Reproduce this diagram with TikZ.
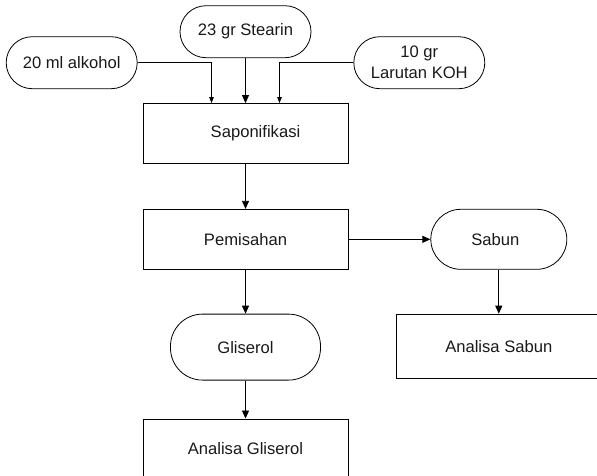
\documentclass[tikz,border=0pt]{standalone}
\usepackage{fontspec}
\setmainfont{Liberation Sans}
\usetikzlibrary{arrows.meta, positioning}

\begin{document}
\begin{tikzpicture}[
    x=1pt, y=-1pt,
    node distance=45pt,
    every node/.style={font=\fontsize{16.6}{21}\selectfont, text=black!90, inner sep=0pt},
    term/.style={draw, rounded corners=26pt, minimum width=131pt, minimum height=52pt, align=center, line width=0.8pt},
    proc/.style={draw, minimum width=205pt, minimum height=60pt, align=center, line width=0.8pt},
    arrow/.style={-{Triangle[length=8pt, width=7pt]}, line width=0.8pt},
    sidearrow/.style={-{Triangle[length=6pt, width=4.5pt]}, line width=0.8pt}
]
\useasboundingbox (0,0) rectangle (597,475);

\node[proc] (sap) at (245.5,133.5) {\hspace*{20pt}Saponifikasi};
\node[term, above=45pt of sap] (stearin) {23 gr Stearin};
\node[term, left=42pt of stearin, yshift=-31pt] (alk) {20 ml alkohol};
\node[term, right=42pt of stearin, yshift=-31pt] (koh) {10 gr\\Larutan KOH};

\node[proc, below=45pt of sap] (pem) {Pemisahan};
\node[term, right=82pt of pem, minimum width=136pt, minimum height=60pt, rounded corners=30pt] (sabun) {Sabun\hspace*{7pt}};
\node[proc, below=44pt of sabun, minimum height=64pt] (asabun) {Analisa Sabun};
\node[term, below=44pt of pem, minimum width=150pt, minimum height=66pt, rounded corners=32pt] (glis) {Gliserol};
\node[proc, below=38pt of glis] (aglis) {Analisa Gliserol};

\draw[sidearrow] (alk.east) -| ([xshift=-34pt]sap.north);
\draw[arrow] (stearin) -- (sap);
\draw[sidearrow] (koh.west) -| ([xshift=34pt]sap.north);
\draw[arrow] (sap) -- (pem);
\draw[arrow] (pem) -- (sabun);
\draw[arrow] (sabun) -- (asabun);
\draw[arrow] (pem) -- (glis);
\draw[arrow] (glis) -- (aglis);

\end{tikzpicture}
\end{document}
